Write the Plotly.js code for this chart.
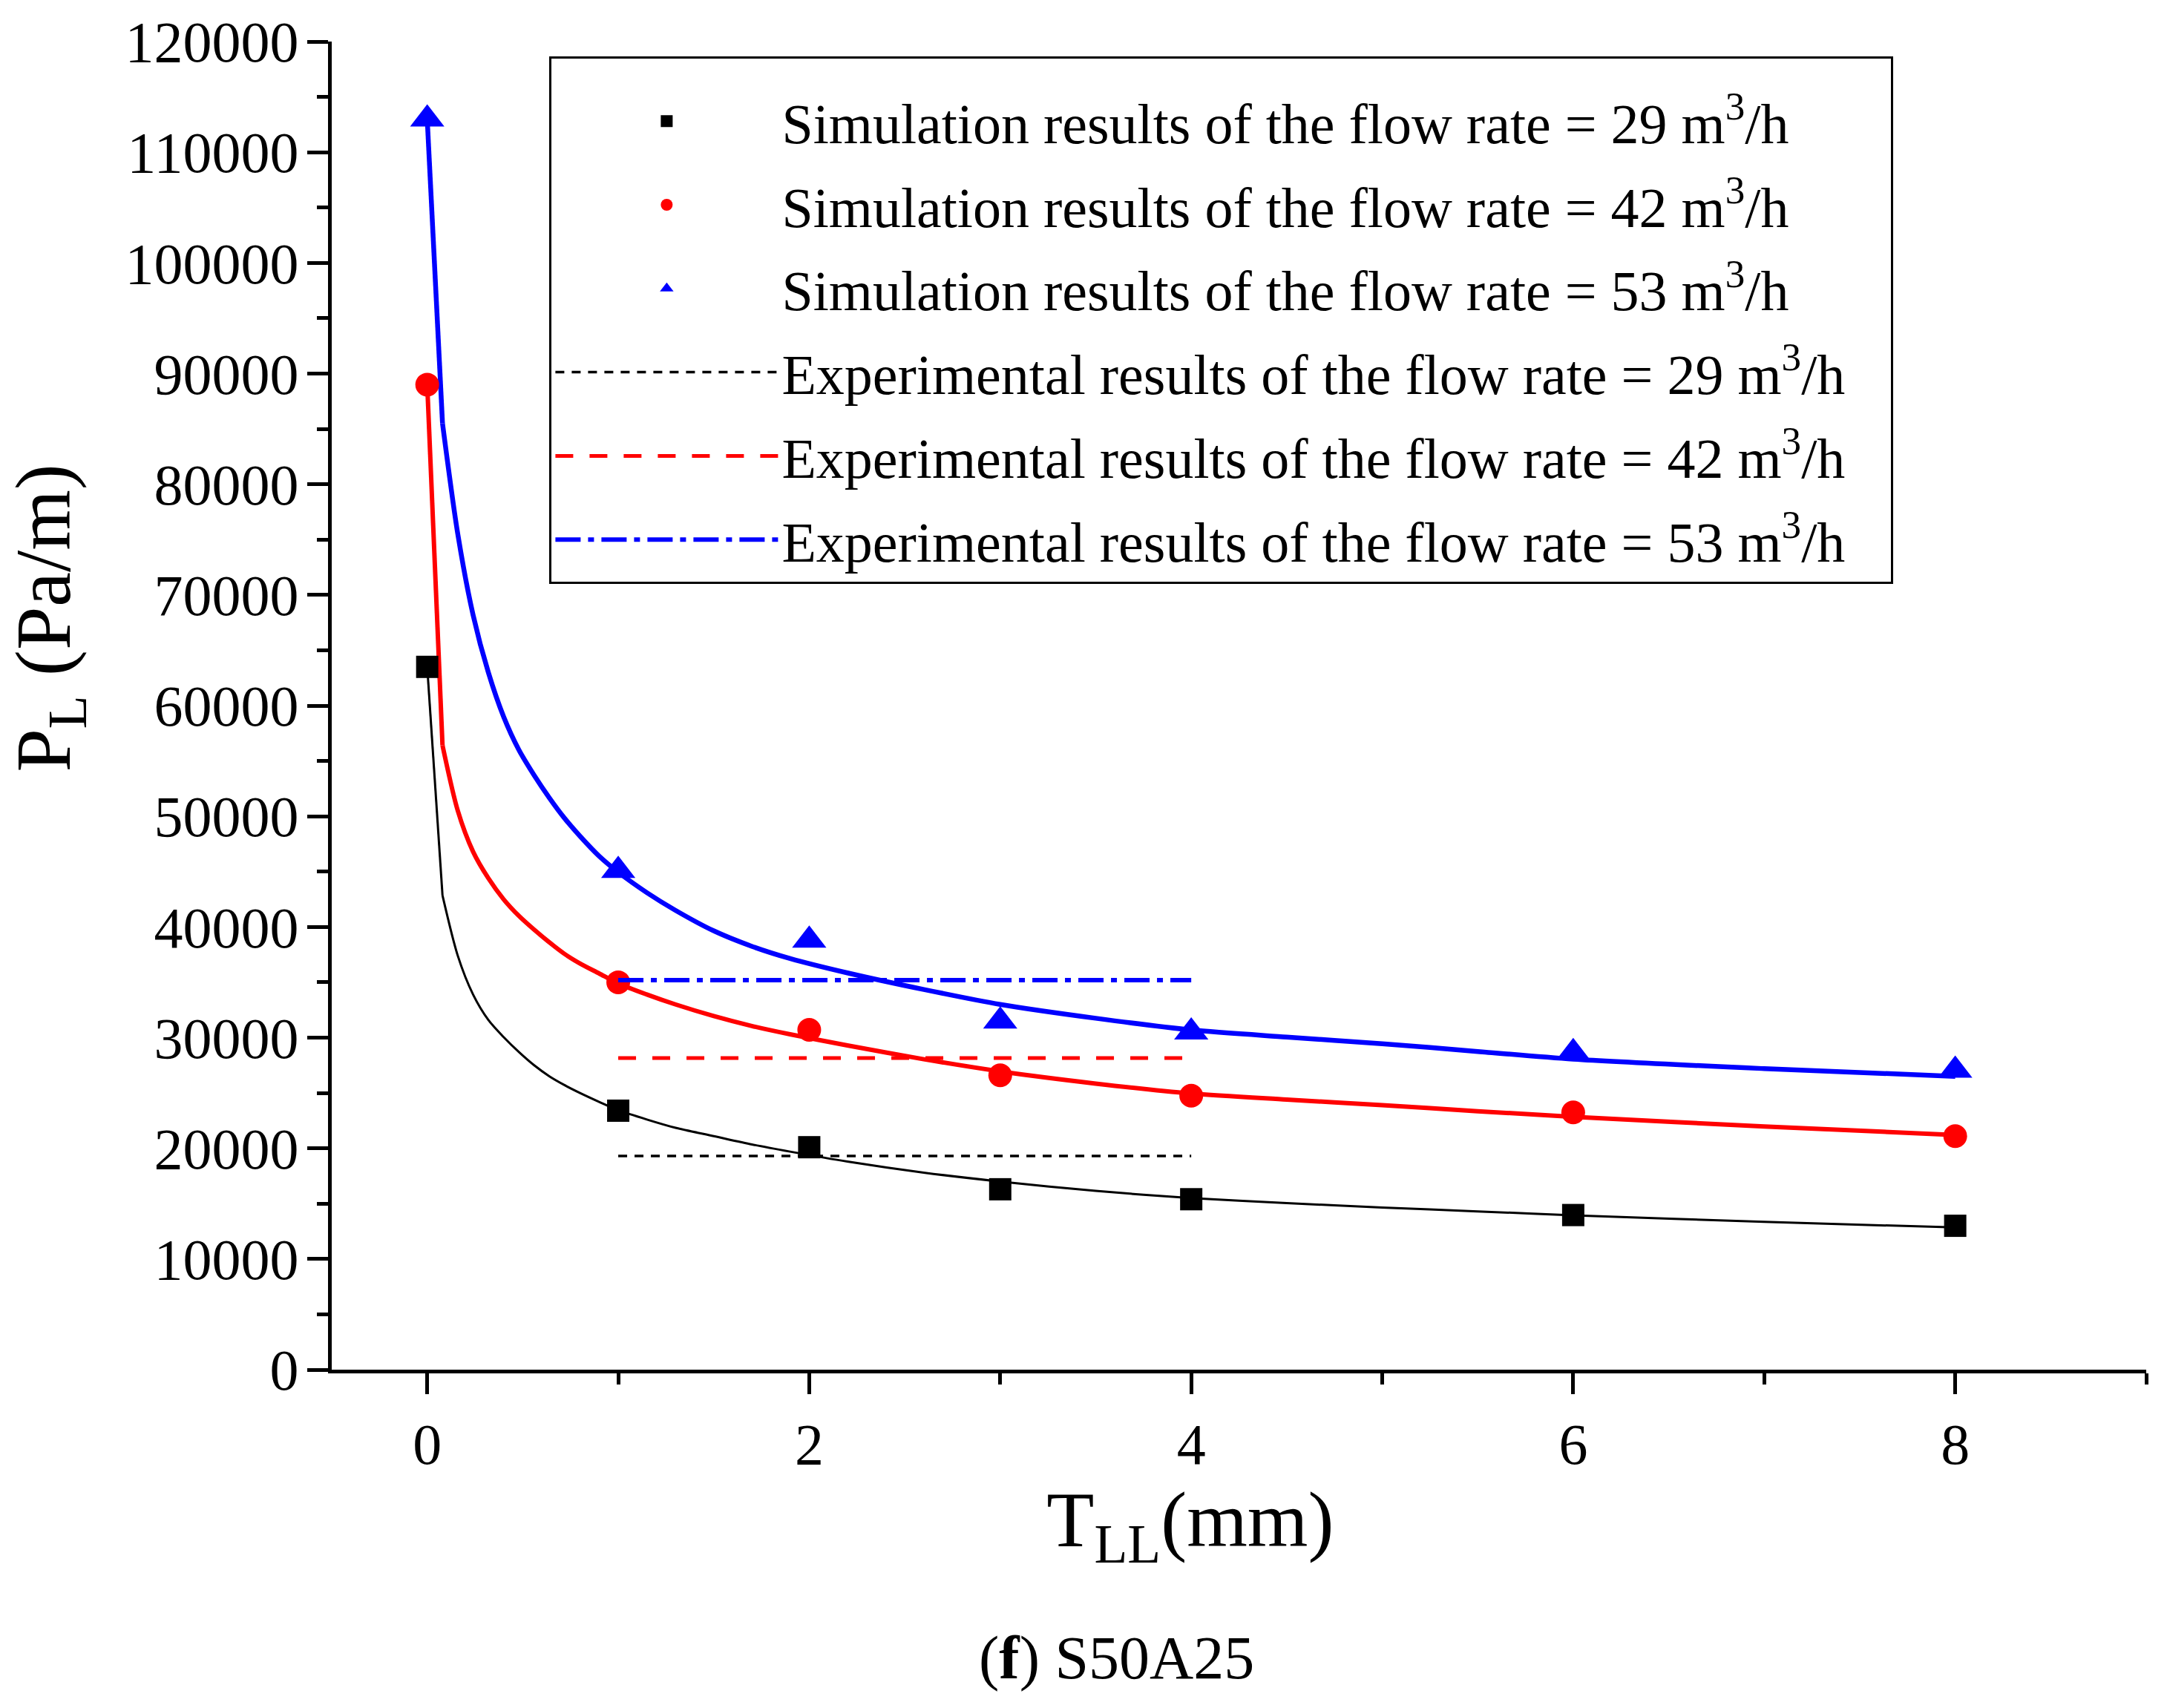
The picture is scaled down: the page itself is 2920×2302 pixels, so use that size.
<!DOCTYPE html>
<html>
<head>
<meta charset="utf-8">
<script src="https://cdn.plot.ly/plotly-3.0.1.min.js"></script>
<style>
  html, body { margin: 0; padding: 0; background: #ffffff; }
  #chart { width: 2920px; height: 2302px; }
</style>
</head>
<body>
<div id="chart"></div>
<script>
// Simulation points (T_LL in mm, P_L in Pa/m)
const simX = [0, 1, 2, 3, 4, 6, 8];
const sim29 = [63500, 23400, 20100, 16300, 15400, 13970, 13000];
const sim42 = [89000, 35000, 30700, 26600, 24750, 23250, 21100];
const sim53 = [113000, 45100, 38800, 31500, 30500, 28650, 27050];

// Fitted curves
const fitX  = [0, 0.08, 0.16, 0.24, 0.32, 0.4, 0.48, 0.56, 0.64, 0.72, 0.8, 0.9, 1.0, 1.15, 1.3, 1.5, 1.7, 1.9, 2.2, 2.6, 3.0, 3.5, 4.0, 4.5, 5.0, 5.5, 6.0, 7.0, 8.0];
const fit29 = [63500, 42850, 37400, 33900, 31600, 30050, 28700, 27500, 26500, 25700, 25000, 24200, 23450, 22600, 21850, 21100, 20350, 19700, 18800, 17800, 17000, 16150, 15500, 15050, 14650, 14300, 13950, 13350, 12850];
const fit42 = [89000, 56400, 50500, 46800, 44400, 42500, 41000, 39750, 38600, 37550, 36700, 35800, 34900, 33900, 33000, 31950, 31050, 30300, 29300, 28050, 26950, 25850, 24950, 24400, 23900, 23350, 22850, 21980, 21200];
const fit53 = [113000, 85500, 75500, 68200, 63000, 59000, 56000, 53700, 51650, 49800, 48200, 46400, 44950, 43100, 41500, 39650, 38250, 37150, 35850, 34350, 33000, 31750, 30700, 30050, 29450, 28750, 28050, 27200, 26500];

// Experimental results (constant over T_LL = 1..4 mm)
const expX = [1, 4];
const exp29 = [19300, 19300];
const exp42 = [28150, 28150];
const exp53 = [35200, 35200];

const xTickVals = [0, 2, 4, 6, 8];
const xTickText = ['0', '2', '4', '6', '8'];

const FONT = 'Liberation Serif, Times New Roman, serif';
const PAD = '&nbsp;&nbsp;&nbsp;';

// fitted curve: first sampled step is a straight segment, the rest is smooth
function fitTraces(ys, color, width) {
  return [
    {x: fitX.slice(0, 2), y: ys.slice(0, 2), mode: 'lines', line: {color: color, width: width},
     showlegend: false, hoverinfo: 'skip'},
    {x: fitX.slice(1), y: ys.slice(1), mode: 'lines', line: {color: color, width: width, shape: 'spline', smoothing: 0.8},
     showlegend: false, hoverinfo: 'skip'}
  ];
}

const traces = [].concat(
  fitTraces(fit29, '#000000', 3),
  fitTraces(fit42, '#ff0000', 6),
  fitTraces(fit53, '#0000ff', 6.5),
  [
  {x: simX, y: sim29, mode: 'markers', name: 'Simulation results of the flow rate = 29 m<sup>3</sup>/h',
   legendgroup: 'a', marker: {symbol: 'square', size: 30, color: '#000000'}},
  {x: simX, y: sim42, mode: 'markers', name: 'Simulation results of the flow rate = 42 m<sup>3</sup>/h',
   legendgroup: 'b', marker: {symbol: 'circle', size: 32, color: '#ff0000'}},
  {x: simX, y: sim53, mode: 'markers', name: 'Simulation results of the flow rate = 53 m<sup>3</sup>/h',
   legendgroup: 'c', marker: {symbol: 'triangle-up', size: 40, color: '#0000ff'}},
  {x: expX, y: exp29, mode: 'lines', name: 'Experimental results of the flow rate = 29 m<sup>3</sup>/h' + PAD,
   legendgroup: 'd', line: {color: '#000000', width: 3.5, dash: '12px,10px'}},
  {x: expX, y: exp42, mode: 'lines', name: 'Experimental results of the flow rate = 42 m<sup>3</sup>/h' + PAD,
   legendgroup: 'e', line: {color: '#ff0000', width: 5, dash: '24px,22px'}},
  {x: expX, y: exp53, mode: 'lines', name: 'Experimental results of the flow rate = 53 m<sup>3</sup>/h' + PAD,
   legendgroup: 'f', line: {color: '#0000ff', width: 6, dash: '34px,10px,8px,10px'}}
  ]
);

const layout = {
  width: 2920,
  height: 2302,
  paper_bgcolor: '#ffffff',
  plot_bgcolor: '#ffffff',
  margin: {l: 447, r: 28, t: 56, b: 456},
  font: {family: FONT, color: '#000000', size: 76},
  showlegend: true,
  legend: {
    x: 0.12, y: 0.989, xanchor: 'left', yanchor: 'top',
    bgcolor: '#ffffff', bordercolor: '#000000', borderwidth: 3,
    font: {family: FONT, size: 76, color: '#000000'},
    title: {text: '&nbsp;', font: {family: FONT, size: 22, color: '#000000'}},
    tracegroupgap: 11, itemwidth: 300
  },
  xaxis: {
    range: [-0.5, 9],
    tickmode: 'array', tickvals: xTickVals, ticktext: xTickText,
    showline: true, linecolor: '#000000', linewidth: 5,
    ticks: 'outside', ticklen: 28, tickwidth: 5, tickcolor: '#000000',
    minor: {ticks: 'outside', ticklen: 15, tickwidth: 5, tickcolor: '#000000', tickmode: 'linear', tick0: 1, dtick: 2},
    showgrid: false, zeroline: false, mirror: false,
    tickfont: {family: FONT, size: 78, color: '#000000'},
    ticklabelstandoff: 0,
    title: {text: 'T<sub>LL</sub>(mm)&nbsp;&nbsp;&nbsp;&nbsp;&nbsp;', font: {family: FONT, size: 105, color: '#000000'}, standoff: 14}
  },
  yaxis: {
    range: [0, 120000],
    tickmode: 'linear', tick0: 0, dtick: 10000, tickformat: 'd',
    showline: true, linecolor: '#000000', linewidth: 5,
    ticks: 'outside', ticklen: 28, tickwidth: 5, tickcolor: '#000000',
    minor: {ticks: 'outside', ticklen: 15, tickwidth: 5, tickcolor: '#000000', dtick: 5000},
    showgrid: false, zeroline: false, mirror: false,
    tickfont: {family: FONT, size: 78, color: '#000000'},
    ticklabelstandoff: -4,
    title: {text: '&nbsp;&nbsp;&nbsp;&nbsp;&nbsp;&nbsp;&nbsp;&nbsp;&nbsp;P<sub>L</sub> (Pa/m)', font: {family: FONT, size: 105, color: '#000000'}, standoff: 43}
  },
  annotations: [
    {text: '(<b>f</b>) S50A25', xref: 'paper', yref: 'paper', x: 0.4327, y: -0.2173,
     xanchor: 'center', yanchor: 'middle', showarrow: false,
     font: {family: FONT, size: 82, color: '#000000'}}
  ]
};

Plotly.newPlot('chart', traces, layout, {displayModeBar: false, staticPlot: true});
</script>
</body>
</html>
